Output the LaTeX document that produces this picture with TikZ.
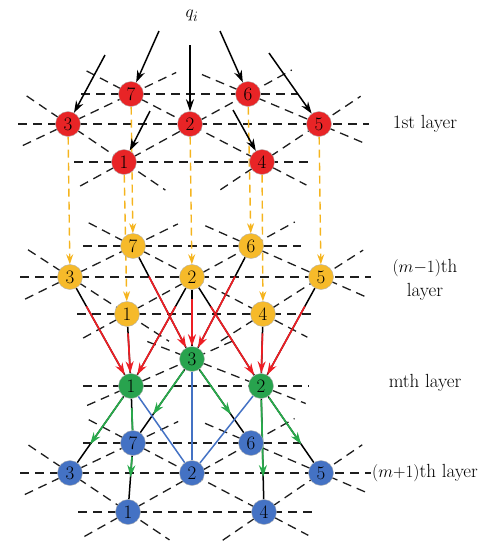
\documentclass[tikz,border=0pt]{standalone}
\usetikzlibrary{calc,arrows.meta,backgrounds}
\definecolor{rdnode}{RGB}{232,36,38}
\definecolor{ylnode}{RGB}{246,186,42}
\definecolor{grnode}{RGB}{40,163,78}
\definecolor{blnode}{RGB}{68,114,196}
\definecolor{rdarr}{RGB}{237,30,36}
\definecolor{ylarr}{RGB}{245,180,30}
\definecolor{grarr}{RGB}{40,170,75}
\definecolor{latcol}{RGB}{30,30,30}
\tikzset{
  site/.style={circle,minimum size=25pt,inner sep=0pt,draw=white!70!black,line width=0.4pt,font=\fontsize{19}{19}\selectfont},
  lbl/.style={font=\fontsize{19}{24}\selectfont,inner sep=1pt},
  lat/.style={dash pattern=on 9pt off 6pt,line width=1.3pt,color=latcol},
  inarrow/.style={line width=1.5pt,-{Stealth[length=12pt,width=8pt]}},
  ylarrow/.style={ylarr,line width=1.4pt,dash pattern=on 8pt off 5pt,-{Stealth[length=10pt,width=7pt]}},
  link/.style={line width=1.5pt,black},
  rdarrow/.style={rdarr,line width=1.7pt,-{Stealth[length=12pt,width=8pt]}},
  grarrow/.style={grarr,line width=1.7pt,-{Stealth[length=12pt,width=8pt]}},
  bllink/.style={blnode,line width=1.5pt}
}
\begin{document}
\begin{tikzpicture}[x=1pt,y=-1pt,line cap=butt,line join=round]
  \useasboundingbox (0,0) rectangle (493,550);
  % 1st layer
  \node[site,fill=rdnode] (r3) at (68,124) {3};
  \node[site,fill=rdnode] (r7) at (131,94) {7};
  \node[site,fill=rdnode] (r2) at (190,124) {2};
  \node[site,fill=rdnode] (r6) at (248,94) {6};
  \node[site,fill=rdnode] (r5) at (319,124) {5};
  \node[site,fill=rdnode] (r1) at (124,162) {1};
  \node[site,fill=rdnode] (r4) at (262,162) {4};
  % (m-1)th layer
  \node[site,fill=ylnode] (y3) at (70,277) {3};
  \node[site,fill=ylnode] (y7) at (133,246) {7};
  \node[site,fill=ylnode] (y2) at (192,277) {2};
  \node[site,fill=ylnode] (y6) at (251,246) {6};
  \node[site,fill=ylnode] (y5) at (321,277) {5};
  \node[site,fill=ylnode] (y1) at (127,314) {1};
  \node[site,fill=ylnode] (y4) at (263,314) {4};
  % mth layer
  \node[site,fill=grnode] (g3) at (192,359) {3};
  \node[site,fill=grnode] (g1) at (131,386) {1};
  \node[site,fill=grnode] (g2) at (261,386) {2};
  % (m+1)th layer
  \node[site,fill=blnode] (b3) at (70,473) {3};
  \node[site,fill=blnode] (b7) at (133,443) {7};
  \node[site,fill=blnode] (b2) at (192,473) {2};
  \node[site,fill=blnode] (b6) at (251,443) {6};
  \node[site,fill=blnode] (b5) at (321,473) {5};
  \node[site,fill=blnode] (b1) at (128,512) {1};
  \node[site,fill=blnode] (b4) at (264,512) {4};
  % labels
  \node[lbl] (qi) at (192,16) {$q_i$};
  \node[lbl] (lay1) at (425,124) {1st layer};
  \node[lbl,align=center] (laym1) at (425,280) {$(m{-}1)$th\\layer};
  \node[lbl] (laym) at (425,383) {mth layer};
  \node[lbl,anchor=west] (laym2) at (371,473) {$(m{+}1)$th layer};
  % free ends of the input arrows
  \coordinate (q3) at (105,55);
  \coordinate (q7) at (159,31);
  \coordinate (q2) at (190,45);
  \coordinate (q6) at (220,31);
  \coordinate (q5) at (269,53);
  \coordinate (q1) at (150,111);
  \coordinate (q4) at (233,110);
  \begin{scope}[on background layer]
    \foreach \l in {r,y,b}{
      \foreach \a/\b in {7/6,3/5,1/4,3/7,1/6,4/5,3/1,7/4,6/5}
        \draw[lat] ($(\l\a.center)!-50pt!(\l\b.center)$) -- ($(\l\b.center)!-50pt!(\l\a.center)$);
    }
    \foreach \a/\b in {1/2,1/3,3/2}
      \draw[lat] ($(g\a.center)!-48pt!(g\b.center)$) -- ($(g\b.center)!-48pt!(g\a.center)$);
    \foreach \a in {3,7,2,6,5,1,4}{
      \draw[ylarrow] (r\a) -- (y\a);
      \draw[inarrow] (q\a) -- (r\a);
    }
    \foreach \s/\t in {y3/g1,y1/g1,y2/g1,y7/g3,y2/g3,y6/g3,y2/g2,y4/g2,y5/g2}{
      \draw[link] (\s) -- (\t);
      \draw[rdarrow] ($(\s.center)!0.27!(\t.center)$) -- (\t);
    }
    \foreach \s/\t in {g1/b3,g3/b7,g3/b6,g2/b4,g2/b5,b7/b1}{
      \draw[link] (\s) -- (\t);
      \draw[grarrow] ($(\s.center)!14pt!(\t.center)$) -- ($(\t.center)!35pt!(\s.center)$);
    }
    \draw[link] (g1) -- (b7);
    \draw[grarr,line width=1.7pt] ($(g1.center)!22pt!(b7.center)$) -- (b7.center);
    \foreach \s in {g1,g3,g2}
      \draw[bllink] (\s) -- (b2);
  \end{scope}
\end{tikzpicture}
\end{document}
